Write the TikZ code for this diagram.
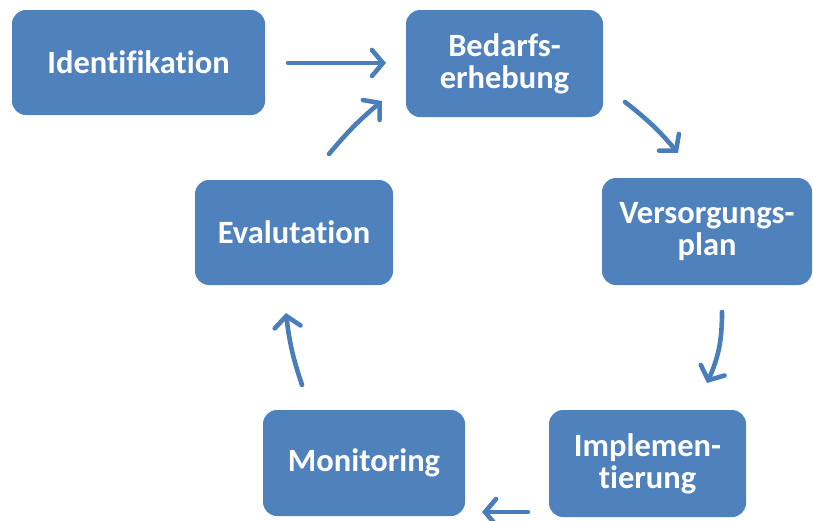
\documentclass[tikz,border=0pt]{standalone}
\usepackage{fontspec}
\setmainfont{Carlito}[Ligatures=CommonOff]
\usetikzlibrary{arrows.meta,calc}
\definecolor{boxblue}{HTML}{4F81BD}
\definecolor{arrblue}{HTML}{4A7EBB}
\tikzset{
  stepbox/.style={fill=boxblue, draw=none, rounded corners=14pt, text=white,
    font=\fontsize{32.5}{32}\selectfont\bfseries, align=center, inner sep=0pt},
  flowarr/.style={draw=arrblue, line width=4.6pt, line cap=round,
    -{Straight Barb[length=11pt,width=26pt,line cap=round]}},
}
\begin{document}
\begin{tikzpicture}[x=1pt,y=-1pt]
\useasboundingbox (0,0) rectangle (813,520);
\node[stepbox, minimum width=253pt, minimum height=105pt] (ident) at (138.5,62.5) {Identifikation};
\node[stepbox, minimum width=197pt, minimum height=107pt] (bedarf) at (504.5,63.5) {Bedarfs-\\erhebung};
\node[stepbox, minimum width=210pt, minimum height=107pt] (versorg) at (707,231.5) {Versorgungs-\\plan};
\node[stepbox, minimum width=197pt, minimum height=107pt] (implem) at (647.5,463.5) {Implemen-\\tierung};
\node[stepbox, minimum width=202pt, minimum height=106pt] (monit) at (364,463) {Monitoring};
\node[stepbox, minimum width=198pt, minimum height=105pt] (eval) at (294,232.5) {Evalutation};
% arrow end points
\coordinate (a1s) at (288,63);  \coordinate (a1e) at (386,63);
\coordinate (a2s) at (625,102); \coordinate (a2e) at (678,153);
\coordinate (a3s) at (722,312); \coordinate (a3e) at (707,383);
\coordinate (a4s) at (528,512); \coordinate (a4e) at (482,512);
\coordinate (a5s) at (302,385); \coordinate (a5e) at (286,313);
\coordinate (a6s) at (329,154); \coordinate (a6e) at (382,101);
\draw[flowarr] (a1s) -- (a1e);
\draw[flowarr] (a2s) to[bend left=6] (a2e);
\draw[flowarr] (a3s) to[bend left=12] (a3e);
\draw[flowarr] (a4s) -- (a4e);
\draw[flowarr] (a5s) to[bend left=6] (a5e);
\draw[flowarr] (a6s) to[bend left=5] (a6e);
\end{tikzpicture}
\end{document}
